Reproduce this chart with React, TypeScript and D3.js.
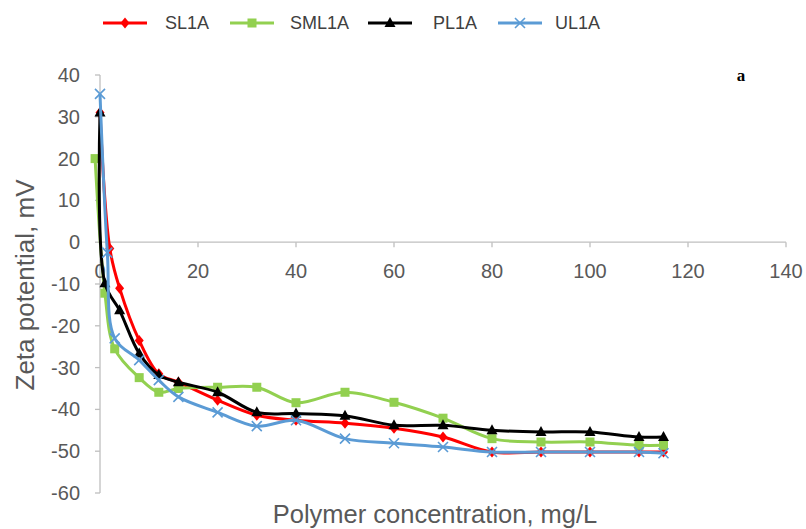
import React from "react";
import * as d3 from "d3";

// Polymer concentration (mg/L) for each series
const xSL1A = [0, 2, 4, 8, 12, 16, 24, 32, 40, 50, 60, 70, 80, 90, 100, 110, 115];
const xSML1A = [-1, 1, 3, 8, 12, 16, 24, 32, 40, 50, 60, 70, 80, 90, 100, 110, 115];
const xPL1A = [0, 1, 4, 8, 12, 16, 24, 32, 40, 50, 60, 70, 80, 90, 100, 110, 115];
const xUL1A = [0, 1.5, 3, 8, 12, 16, 24, 32, 40, 50, 60, 70, 80, 90, 100, 110, 115];

// Zeta potential (mV)
const ySL1A = [31, -1.5, -11, -23.5, -31.5, -33.5, -37.8, -41.4, -42.6, -43.3, -44.5, -46.6, -50.2, -50.2, -50.2, -50.2, -50.2];
const ySML1A = [20, -12.2, -25.5, -32.4, -35.9, -35, -34.7, -34.7, -38.4, -35.9, -38.3, -42.1, -47, -47.8, -47.8, -48.6, -48.6];
const yPL1A = [31, -9.8, -16.3, -26.6, -31.8, -33.5, -35.9, -40.7, -41, -41.5, -43.8, -43.8, -45, -45.4, -45.4, -46.6, -46.6];
const yUL1A = [35.5, -2.5, -23, -28.2, -33, -37, -40.7, -44, -42.6, -47, -48.1, -49, -50.2, -50.2, -50.2, -50.2, -50.5];

const seriesNames = ["SL1A", "SML1A", "PL1A", "UL1A"];
const xTicks = [0, 20, 40, 60, 80, 100, 120, 140];
const yTicks = [40, 30, 20, 10, 0, -10, -20, -30, -40, -50, -60];

type Marker = "diamond" | "square" | "triangle" | "cross";

const series = [
  { name: seriesNames[0], xs: xSL1A, ys: ySL1A, color: "#FF0000", marker: "diamond" as Marker },
  { name: seriesNames[1], xs: xSML1A, ys: ySML1A, color: "#92D050", marker: "square" as Marker },
  { name: seriesNames[2], xs: xPL1A, ys: yPL1A, color: "#000000", marker: "triangle" as Marker },
  { name: seriesNames[3], xs: xUL1A, ys: yUL1A, color: "#5B9BD5", marker: "cross" as Marker },
];

const W = 806;
const H = 529;
const axisColor = "#BFBFBF";
const textColor = "#595959";
const font = "'Liberation Sans', Arial, sans-serif";

function MarkerShape({ type, x, y, color }: { type: Marker; x: number; y: number; color: string }) {
  if (type === "diamond") {
    return <path d={`M${x},${y - 5.5}L${x + 4.5},${y}L${x},${y + 5.5}L${x - 4.5},${y}Z`} fill={color} />;
  }
  if (type === "square") {
    return <rect x={x - 4.5} y={y - 4.5} width={9} height={9} fill={color} />;
  }
  if (type === "triangle") {
    return <path d={`M${x},${y - 6}L${x + 5.5},${y + 4}L${x - 5.5},${y + 4}Z`} fill={color} />;
  }
  return (
    <path
      d={`M${x - 5},${y - 5}L${x + 5},${y + 5}M${x - 5},${y + 5}L${x + 5},${y - 5}`}
      stroke={color}
      strokeWidth={1.6}
      fill="none"
    />
  );
}

export default function App() {
  const x = d3.scaleLinear().domain([0, 140]).range([100, 786]);
  const y = d3.scaleLinear().domain([-60, 40]).range([493, 75]);
  const x0 = x(0);
  const y0 = y(0);

  const line = d3
    .line<[number, number]>()
    .x((d) => x(d[0]))
    .y((d) => y(d[1]))
    .curve(d3.curveCatmullRom.alpha(0.5));

  const legendItems = [
    { lx: 103, tx: 165 },
    { lx: 230, tx: 290 },
    { lx: 368, tx: 433 },
    { lx: 498, tx: 555 },
  ];
  const legendY = 23;

  return (
    <svg
      width={W}
      height={H}
      viewBox={`0 0 ${W} ${H}`}
      style={{ position: "absolute", left: 0, top: 0, background: "#fff" }}
    >
      <rect width={W} height={H} fill="#fff" />

      {/* y axis */}
      <line x1={x0} x2={x0} y1={y(40)} y2={y(-60)} stroke={axisColor} strokeWidth={1.3} />
      {yTicks.map((t) => (
        <g key={`yt${t}`}>
          <line x1={x0 - 5} x2={x0} y1={y(t)} y2={y(t)} stroke={axisColor} strokeWidth={1.3} />
          <text
            x={80}
            y={y(t)}
            dy="0.35em"
            textAnchor="end"
            fontFamily={font}
            fontSize={20}
            fill={textColor}
          >
            {t}
          </text>
        </g>
      ))}

      {/* x axis at zero */}
      <line x1={x0} x2={x(140)} y1={y0} y2={y0} stroke={axisColor} strokeWidth={1.3} />
      {xTicks.map((t) => (
        <g key={`xt${t}`}>
          <line x1={x(t)} x2={x(t)} y1={y0} y2={y0 + 5} stroke={axisColor} strokeWidth={1.3} />
          <text
            x={x(t)}
            y={y0 + 36}
            textAnchor="middle"
            fontFamily={font}
            fontSize={20}
            fill={textColor}
          >
            {t}
          </text>
        </g>
      ))}

      {/* series */}
      {series.map((s) => {
        const pts = s.xs.map((v, i) => [v, s.ys[i]] as [number, number]);
        return (
          <g key={s.name}>
            <path d={line(pts) || ""} fill="none" stroke={s.color} strokeWidth={3} />
            {pts.map((p, i) => (
              <MarkerShape key={i} type={s.marker} x={x(p[0])} y={y(p[1])} color={s.color} />
            ))}
          </g>
        );
      })}

      {/* legend */}
      {series.map((s, i) => {
        const it = legendItems[i];
        const cx = it.lx + 22;
        return (
          <g key={`lg${s.name}`}>
            <line x1={it.lx} x2={it.lx + 44} y1={legendY} y2={legendY} stroke={s.color} strokeWidth={3} />
            <MarkerShape type={s.marker} x={cx} y={legendY} color={s.color} />
            <text
              x={it.tx}
              y={legendY}
              dy="0.35em"
              fontFamily={font}
              fontSize={18}
              fill="#404040"
            >
              {s.name}
            </text>
          </g>
        );
      })}

      {/* axis titles */}
      <text
        x={435}
        y={523}
        textAnchor="middle"
        fontFamily={font}
        fontSize={25.5}
        fill={textColor}
      >
        Polymer concentration, mg/L
      </text>
      <text
        transform={`translate(34,${285}) rotate(-90)`}
        textAnchor="middle"
        fontFamily={font}
        fontSize={26}
        fill={textColor}
      >
        Zeta potential, mV
      </text>

      {/* panel label */}
      <text
        x={741}
        y={81}
        textAnchor="middle"
        fontFamily="'Liberation Serif', 'Times New Roman', serif"
        fontWeight="bold"
        fontSize={17}
        fill="#000"
      >
        a
      </text>
    </svg>
  );
}
